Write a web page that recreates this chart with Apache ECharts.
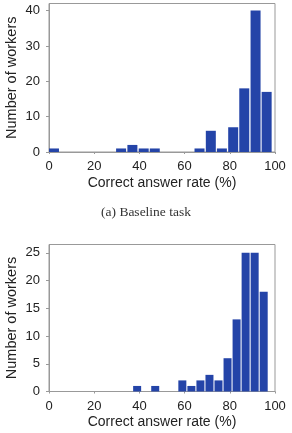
<!DOCTYPE html>
<html>
<head>
<meta charset="utf-8">
<script src="https://cdn.jsdelivr.net/npm/echarts@6/dist/echarts.min.js"></script>
<style>
  html, body { margin: 0; padding: 0; background: #fff; }
  #chart { width: 292px; height: 433px; }
</style>
</head>
<body>
<div id="chart"></div>
<script>
// (a) baseline task: bin centres (%) and counts
const baseRates = [2.2, 31.9, 36.9, 41.9, 46.8, 66.6, 71.6, 76.5, 81.5, 86.4, 91.4, 96.3]
const baseCounts = [1, 1, 2, 1, 1, 1, 6, 1, 7, 18, 40, 17]

// second task
const taskRates = [39, 47, 59, 63, 67, 71, 75, 79, 83, 87, 91, 95]
const taskCounts = [1, 1, 2, 1, 2, 3, 2, 6, 13, 25, 25, 18]

const xTicks = [0, 20, 40, 60, 80, 100]

const barColor = '#2444a8'
const font = 'Liberation Sans, Arial, sans-serif'

function xAxisFor(gridIndex) {
  return {
    type: 'value',
    gridIndex: gridIndex,
    min: 0,
    max: 100,
    interval: 20,
    name: 'Correct answer rate (%)',
    nameLocation: 'middle',
    nameGap: 24,
    nameMoveOverlap: false,
    nameTextStyle: { fontFamily: font, fontSize: 14, color: '#222' },
    axisLine: { lineStyle: { color: '#999' } },
    axisTick: { show: true, length: 2, lineStyle: { color: '#999' } },
    axisLabel: {
      margin: 8,
      fontFamily: font,
      fontSize: 13,
      color: '#222',
      formatter: v => (xTicks.indexOf(v) >= 0 ? String(v) : '')
    },
    splitLine: { show: false }
  }
}

function yAxisFor(gridIndex, max, step) {
  return {
    type: 'value',
    gridIndex: gridIndex,
    min: 0,
    max: max,
    interval: step,
    name: 'Number of workers',
    nameLocation: 'middle',
    nameGap: 30,
    nameMoveOverlap: false,
    nameTextStyle: { fontFamily: font, fontSize: 14.5, color: '#222' },
    axisLine: { show: true, lineStyle: { color: '#999' } },
    axisTick: { show: true, length: 3, lineStyle: { color: '#999' } },
    axisLabel: {
      margin: 9,
      fontFamily: font,
      fontSize: 13,
      color: '#222',
      showMaxLabel: false
    },
    splitLine: { show: false }
  }
}

const chart = echarts.init(document.getElementById('chart'))
chart.setOption({
  animation: false,
  grid: [
    { left: 49, right: 17, top: 3.5, height: 148.5, show: true, borderColor: '#999', borderWidth: 1, outerBoundsMode: 'none' },
    { left: 49, right: 17, top: 244.5, height: 147, show: true, borderColor: '#999', borderWidth: 1, outerBoundsMode: 'none' }
  ],
  xAxis: [xAxisFor(0), xAxisFor(1)],
  yAxis: [yAxisFor(0, 42, 10), yAxisFor(1, 26.5, 5)],
  series: [
    {
      type: 'bar',
      xAxisIndex: 0,
      yAxisIndex: 0,
      barWidth: 10,
      itemStyle: { color: barColor },
      data: baseRates.map((r, i) => [r, baseCounts[i]])
    },
    {
      type: 'bar',
      xAxisIndex: 1,
      yAxisIndex: 1,
      barWidth: 8,
      itemStyle: { color: barColor },
      data: taskRates.map((r, i) => [r, taskCounts[i]])
    }
  ],
  graphic: [
    {
      type: 'text',
      left: 'center',
      top: 205,
      style: {
        text: '(a) Baseline task',
        fontFamily: 'Liberation Serif, Times New Roman, serif',
        fontSize: 13.5,
        fill: '#333'
      }
    }
  ]
})
</script>
</body>
</html>
